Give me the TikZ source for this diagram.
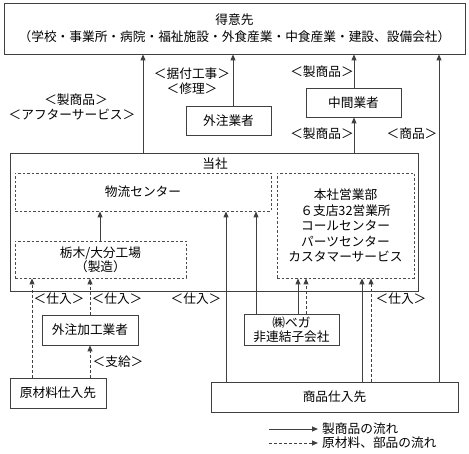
\documentclass[tikz,border=0pt]{standalone}
\usepackage{fontspec}
\setmainfont{Noto Sans CJK JP}
\usetikzlibrary{arrows.meta}
\begin{document}
\begin{tikzpicture}[x=1pt,y=-1pt,
  every node/.style={font=\fontsize{12.7}{15}\selectfont, inner sep=0pt},
  box/.style={draw=black!75, line width=0.8pt, align=center},
  dbox/.style={draw=black!70, line width=0.8pt, dash pattern=on 2.5pt off 2pt, align=center},
  arr/.style={draw=black!75, line width=0.8pt, -{Triangle[length=6pt,width=5pt]}},
  darr/.style={arr, dash pattern=on 3pt off 2pt},
  lbl/.style={align=center}]
\useasboundingbox (0,0) rectangle (469,454);
% boxes
\node[box, minimum width=461pt, minimum height=51pt, font=\fontsize{12.7}{17}\selectfont] (tokui) at (234.5,28.5) {得意先\\（学校・事業所・病院・福祉施設・外食産業・中食産業・建設、設備会社）};
\node[box, minimum width=85pt, minimum height=29pt] (gaichu) at (228.5,120.5) {外注業者};
\node[box, minimum width=95pt, minimum height=29pt] (chukan) at (353.5,102.5) {中間業者};
\node[box, minimum width=408pt, minimum height=138pt] (tosha) at (214,222) {};
\node (toshat) at (215,164) {当社};
\node[dbox, minimum width=256pt, minimum height=38pt] (butsu) at (143,192) {物流センター};
\node[dbox, minimum width=137pt, minimum height=105pt, font=\fontsize{12.7}{15.5}\selectfont] (honsha) at (345.5,225.5) {本社営業部\\６支店32営業所\\コールセンター\\パーツセンター\\カスタマーサービス};
\node[dbox, minimum width=171pt, minimum height=37pt, font=\fontsize{12.7}{14}\selectfont] (tochigi) at (100.5,259.5) {栃木/大分工場\\（製造）};
\node[box, minimum width=95pt, minimum height=31pt, font=\fontsize{12.7}{14}\selectfont] (vega) at (291.5,329.5) {㈱ベガ\\非連結子会社};
\node[box, minimum width=247pt, minimum height=30pt] (shohin) at (334.5,397) {商品仕入先};
\node[box, minimum width=96pt, minimum height=30pt] (genzai) at (58,393) {原材料仕入先};
\node[box, minimum width=96pt, minimum height=30pt] (kako) at (90,330) {外注加工業者};
% labels
\node[lbl] (l1) at (192,74) {＜据付工事＞};
\node[lbl] (l2) at (192,89) {＜修理＞};
\node[lbl] (l3) at (322,72) {＜製商品＞};
\node[lbl] (l4) at (76,100) {＜製商品＞};
\node[lbl] (l5) at (72,115) {＜アフターサービス＞};
\node[lbl] (l6) at (322,134) {＜製商品＞};
\node[lbl] (l7) at (412,134) {＜商品＞};
\node[lbl] (l8) at (59,299) {＜仕入＞};
\node[lbl] (l9) at (117,299) {＜仕入＞};
\node[lbl] (l10) at (196,299) {＜仕入＞};
\node[lbl] (l11) at (401,299) {＜仕入＞};
\node[lbl] (l12) at (118,362) {＜支給＞};
% connectors
\draw[arr] (143,0 |- tosha.north) -- (143,0 |- tokui.south);
\draw[arr] (233,0 |- gaichu.north) -- (233,0 |- tokui.south);
\draw[arr] (354,0 |- chukan.north) -- (354,0 |- tokui.south);
\draw[arr] (354,0 |- tosha.north) -- (354,0 |- chukan.south);
\draw[arr] (439,0 |- shohin.north) -- (439,0 |- tokui.south);
\draw[arr] (100,0 |- tochigi.north) -- (100,0 |- butsu.south);
\draw[arr] (226,0 |- shohin.north) -- (226,0 |- butsu.south);
\draw[arr] (256,0 |- vega.north) -- (256,0 |- butsu.south);
\draw[arr] (298,0 |- vega.north) -- (298,0 |- honsha.south);
\draw[darr] (306,0 |- vega.north) -- (306,0 |- honsha.south);
\draw[arr] (362,0 |- shohin.north) -- (362,0 |- honsha.south);
\draw[darr] (371,0 |- shohin.north) -- (371,0 |- honsha.south);
\draw[darr] (32,0 |- genzai.north) -- (32,0 |- tochigi.south);
\draw[darr] (90,0 |- kako.north) -- (90,0 |- tochigi.south);
\draw[darr] (90,0 |- genzai.north) -- (90,0 |- kako.south);
% legend
\coordinate (lga) at (269,429);
\coordinate (lgb) at (318,429);
\coordinate (lgc) at (269,443);
\coordinate (lgd) at (318,443);
\draw[arr] (lga) -- (lgb);
\draw[darr] (lgc) -- (lgd);
\node[anchor=west] (lgt1) at (322,429) {製商品の流れ};
\node[anchor=west] (lgt2) at (322,443) {原材料、部品の流れ};
\end{tikzpicture}
\end{document}
